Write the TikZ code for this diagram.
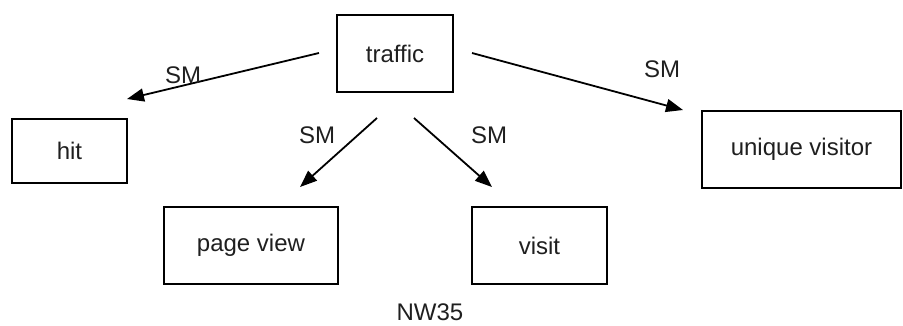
\documentclass[tikz,border=0pt]{standalone}
\usepackage{fontspec}
\setmainfont{Liberation Sans}
\usetikzlibrary{arrows.meta}
\begin{document}
\begin{tikzpicture}[x=1pt,y=-1pt,
  box/.style={draw=black,line width=1.8pt,inner sep=0pt,font=\fontsize{24}{28}\selectfont,text=black!88},
  conn/.style={line width=1.8pt,-{Triangle[length=17pt,width=13pt]}},
  lbl/.style={font=\fontsize{24}{28}\selectfont,text=black!88,inner sep=0pt}]
\useasboundingbox (0,0) rectangle (903,325);
\node[box,minimum width=116pt,minimum height=77pt] (traffic) at (395,53.5) {traffic};
\node[box,minimum width=115pt,minimum height=64pt] (hit) at (69.5,151) {hit};
\node[box,minimum width=199pt,minimum height=77pt] (uv) at (801.5,149.5) {unique visitor};
\node[box,minimum width=174pt,minimum height=77pt] (pv) at (251,245.5) {page view};
\node[box,minimum width=135pt,minimum height=77pt] (visit) at (539.5,245.5) {visit};
\coordinate (s1) at (319,53);  \coordinate (e1) at (127,99);
\coordinate (s2) at (472,53);  \coordinate (e2) at (683,110);
\coordinate (s3) at (377,118); \coordinate (e3) at (300,187);
\coordinate (s4) at (414,118); \coordinate (e4) at (492,187);
\draw[conn] (s1) -- (e1);
\draw[conn] (s2) -- (e2);
\draw[conn] (s3) -- (e3);
\draw[conn] (s4) -- (e4);
\node[lbl] (l1) at (183,75) {SM};
\node[lbl] (l2) at (662,69) {SM};
\node[lbl] (l3) at (317,135) {SM};
\node[lbl] (l4) at (489,135) {SM};
\node[lbl] (nw) at (430,312) {NW35};
\end{tikzpicture}
\end{document}
